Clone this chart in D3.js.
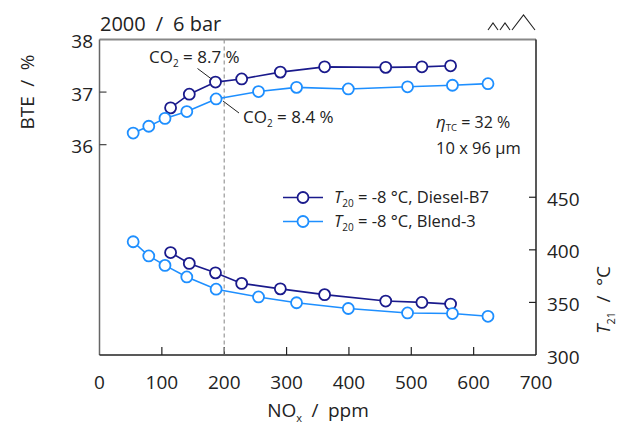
<!DOCTYPE html>
<html><head><meta charset="utf-8">
<script src="https://cdn.jsdelivr.net/npm/d3@7"></script>
<style>
body{margin:0;background:#fff;}
text{font-family:"Open Sans",sans-serif;fill:#222;}
</style></head>
<body><svg id="c" width="627" height="429"></svg>
<script>
// ---- data ----
const noxDiesel = [114, 144, 186, 228, 290, 361, 459, 517, 563];
const bteDiesel = [36.70, 36.96, 37.19, 37.25, 37.38, 37.48, 37.47, 37.48, 37.50];
const tDiesel   = [397.4, 387.1, 378.1, 368.1, 362.9, 357.4, 351.3, 350.0, 348.4];
const noxBlend  = [54, 79, 105, 140, 187, 255, 316, 399, 494, 566, 623];
const bteBlend  = [36.22, 36.35, 36.50, 36.63, 36.87, 37.01, 37.09, 37.06, 37.10, 37.13, 37.16];
const tBlend    = [407.7, 394.2, 385.2, 374.2, 362.6, 355.2, 349.7, 344.2, 340.0, 339.4, 336.8];
const xTicks = [0, 100, 200, 300, 400, 500, 600, 700];
const bteTicks = [36, 37, 38];
const tTicks = [300, 350, 400, 450];
const seriesNames = ["Diesel-B7", "Blend-3"];
const colors = ["#1a1a8c", "#1e8fff"];

const svg = d3.select("#c");
const L = 99.5, R = 536, T = 39.5, B = 355;
const x = d3.scaleLinear().domain([0, 700]).range([L, R]);
const yB = d3.scaleLinear().domain([32, 38]).range([B, T]);
const yT = d3.scaleLinear().domain([300, 600]).range([B, T]);
const SP = "\u2002/\u2002";

// frame
svg.append("line").attr("x1", L).attr("x2", R).attr("y1", T).attr("y2", T).attr("stroke", "#888").attr("stroke-width", 2);
svg.append("line").attr("x1", L).attr("x2", L).attr("y1", T).attr("y2", B).attr("stroke", "#666").attr("stroke-width", 1.5);
svg.append("line").attr("x1", R).attr("x2", R).attr("y1", T).attr("y2", B).attr("stroke", "#222").attr("stroke-width", 1.5);
svg.append("line").attr("x1", L).attr("x2", R).attr("y1", B).attr("y2", B).attr("stroke", "#222").attr("stroke-width", 1.5);

// x ticks
xTicks.forEach(v => {
  if (v > 0 && v < 700) svg.append("line").attr("x1", x(v)).attr("x2", x(v)).attr("y1", B).attr("y2", B - 8).attr("stroke", "#222").attr("stroke-width", 1.2);
  svg.append("text").attr("x", x(v)).attr("y", 382).attr("dy", "0.35em").attr("text-anchor", "middle").attr("font-size", 19).text(v);
});
// left ticks
bteTicks.forEach(v => {
  if (v < 38) svg.append("line").attr("x1", L).attr("x2", L + 7).attr("y1", yB(v)).attr("y2", yB(v)).attr("stroke", "#444").attr("stroke-width", 1.2);
  svg.append("text").attr("x", 93).attr("y", yB(v) + 2).attr("dy", "0.35em").attr("text-anchor", "end").attr("font-size", 19).text(v);
});
// right ticks
tTicks.forEach(v => {
  if (v > 300) svg.append("line").attr("x1", R).attr("x2", R - 7).attr("y1", yT(v)).attr("y2", yT(v)).attr("stroke", "#222").attr("stroke-width", 1.2);
  svg.append("text").attr("x", 547).attr("y", yT(v) + 2).attr("dy", "0.35em").attr("text-anchor", "start").attr("font-size", 19).text(v);
});

// dashed line at 200
svg.append("line").attr("x1", x(200)).attr("x2", x(200)).attr("y1", T).attr("y2", B)
  .attr("stroke", "#999").attr("stroke-width", 1.2).attr("stroke-dasharray", "4,3");

// titles
svg.append("text").attr("x", 100).attr("y", 31).attr("font-size", 20).text("2000" + SP + "6 bar");
// top-right icon
const icon = [[[488, 30], [493, 23], [498, 30]], [[500, 30], [505, 23], [510, 30]], [[512, 30], [523.5, 15], [535, 30]]];
icon.forEach(p => svg.append("path").attr("d", d3.line()(p)).attr("fill", "none").attr("stroke", "#222").attr("stroke-width", 1.1));

svg.append("text").attr("transform", "translate(34,92) rotate(-90)").attr("text-anchor", "middle").attr("font-size", 19).text("BTE" + SP + "%");
const rl = svg.append("text").attr("transform", "translate(610,300) rotate(-90)").attr("text-anchor", "middle").attr("font-size", 19);
rl.append("tspan").attr("font-style", "italic").text("T");
rl.append("tspan").attr("font-size", 11).attr("dy", 5).text("21");
rl.append("tspan").attr("dy", -5).text(SP + "°C");
const xl = svg.append("text").attr("x", 318).attr("y", 417).attr("text-anchor", "middle").attr("font-size", 19);
xl.append("tspan").text("NO");
xl.append("tspan").attr("font-size", 11).attr("dy", 5).text("x");
xl.append("tspan").attr("dy", -5).text(SP + "ppm");

// series
const sets = [
  {nox: noxDiesel, v: bteDiesel, y: yB, c: colors[0]},
  {nox: noxDiesel, v: tDiesel, y: yT, c: colors[0]},
  {nox: noxBlend, v: bteBlend, y: yB, c: colors[1]},
  {nox: noxBlend, v: tBlend, y: yT, c: colors[1]},
];
sets.forEach(s => {
  const pts = s.nox.map((n, i) => [x(n), s.y(s.v[i])]);
  svg.append("path").attr("d", d3.line()(pts)).attr("fill", "none").attr("stroke", s.c).attr("stroke-width", 1.6);
  svg.append("g").selectAll("circle").data(pts).join("circle")
    .attr("cx", d => d[0]).attr("cy", d => d[1]).attr("r", 5.5)
    .attr("fill", "#fff").attr("stroke", s.c).attr("stroke-width", 1.8);
});

// annotations
function co2(xp, yp, val) {
  const t = svg.append("text").attr("x", xp).attr("y", yp).attr("font-size", 17);
  t.append("tspan").text("CO");
  t.append("tspan").attr("font-size", 10).attr("dy", 4).text("2");
  t.append("tspan").attr("dy", -4).text(" = " + val + " %");
}
co2(149, 63, "8.7");
svg.append("line").attr("x1", 197.5).attr("y1", 68.5).attr("x2", 211.5).attr("y2", 79).attr("stroke", "#222").attr("stroke-width", 1);
co2(243, 123, "8.4");
svg.append("line").attr("x1", 223).attr("y1", 101).attr("x2", 239).attr("y2", 113).attr("stroke", "#222").attr("stroke-width", 1);

const eta = svg.append("text").attr("x", 436).attr("y", 128).attr("font-size", 16);
eta.append("tspan").attr("font-style", "italic").attr("font-size", 17).text("η");
eta.append("tspan").attr("font-size", 9.5).attr("dy", 3).text("TC");
eta.append("tspan").attr("dy", -3).text(" = 32 %");
svg.append("text").attr("x", 436).attr("y", 154).attr("font-size", 16.5).text("10 x 96 μm");

// legend
seriesNames.forEach((nm, i) => {
  const yy = 197.5 + i * 24;
  svg.append("line").attr("x1", 283).attr("x2", 323).attr("y1", yy).attr("y2", yy).attr("stroke", colors[i]).attr("stroke-width", 1.6);
  svg.append("circle").attr("cx", 303).attr("cy", yy).attr("r", 5.5).attr("fill", "#fff").attr("stroke", colors[i]).attr("stroke-width", 1.8);
  const t = svg.append("text").attr("x", 334).attr("y", yy).attr("dy", "0.35em").attr("font-size", 16.5);
  t.append("tspan").attr("font-style", "italic").text("T");
  t.append("tspan").attr("font-size", 10).attr("dy", 4).text("20");
  t.append("tspan").attr("dy", -4).text(" = -8 °C, " + nm);
});
</script></body></html>
